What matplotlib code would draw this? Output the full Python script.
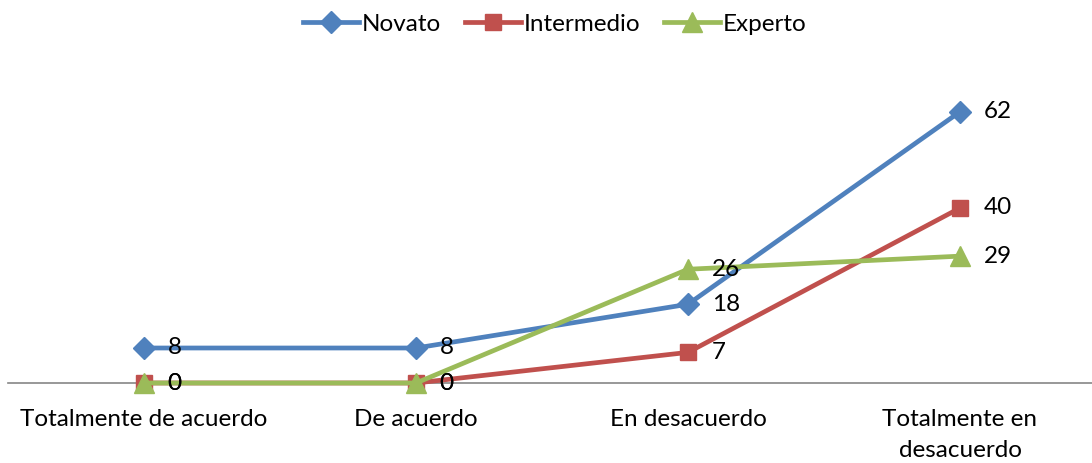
import matplotlib
matplotlib.use('Agg')
import matplotlib.pyplot as plt

categorias = ['Totalmente de acuerdo', 'De acuerdo', 'En desacuerdo', 'Totalmente en\ndesacuerdo']
novato = [8, 8, 18, 62]
intermedio = [0, 0, 7, 40]
experto = [0, 0, 26, 29]

plt.rcParams['font.family'] = ['Lato', 'DejaVu Sans']

fig = plt.figure(figsize=(10.92, 4.63), dpi=100)
ax = fig.add_axes([8 / 1092, 80 / 463, 1088 / 1092, 306.25 / 463])

x = list(range(len(categorias)))
series = [
    ('Novato', novato, '#4F81BD', 'D', 11),
    ('Intermedio', intermedio, '#C0504D', 's', 12),
    ('Experto', experto, '#9BBB59', '^', 14),
]
for i, (nombre, vals, color, mk, ms) in enumerate(series):
    ax.plot(x, vals, color=color, lw=3.4, marker=mk, markersize=ms,
            label=nombre, clip_on=False, zorder=3 + i)
    for xi, v in zip(x, vals):
        ax.annotate(str(v), (xi, v), xytext=(17, 0), textcoords='offset points',
                    ha='left', va='center', fontsize=17.5, color='black', zorder=10)

ax.set_xlim(-0.5, 3.5)
ax.set_ylim(0, 70)
ax.set_xticks(x)
ax.set_xticklabels(categorias, fontsize=17.5, linespacing=1.55)
ax.tick_params(axis='x', length=0, pad=19)
ax.set_yticks([])
for s in ['top', 'right', 'left']:
    ax.spines[s].set_visible(False)
ax.spines['bottom'].set_color('#868686')
ax.spines['bottom'].set_linewidth(1.2)

fig.legend(loc='center', bbox_to_anchor=(0.508, 0.948), ncol=3, frameon=False,
           fontsize=17.5, handlelength=2.3, handletextpad=0.1, columnspacing=1.0)

fig.savefig('out.png', dpi=100)
